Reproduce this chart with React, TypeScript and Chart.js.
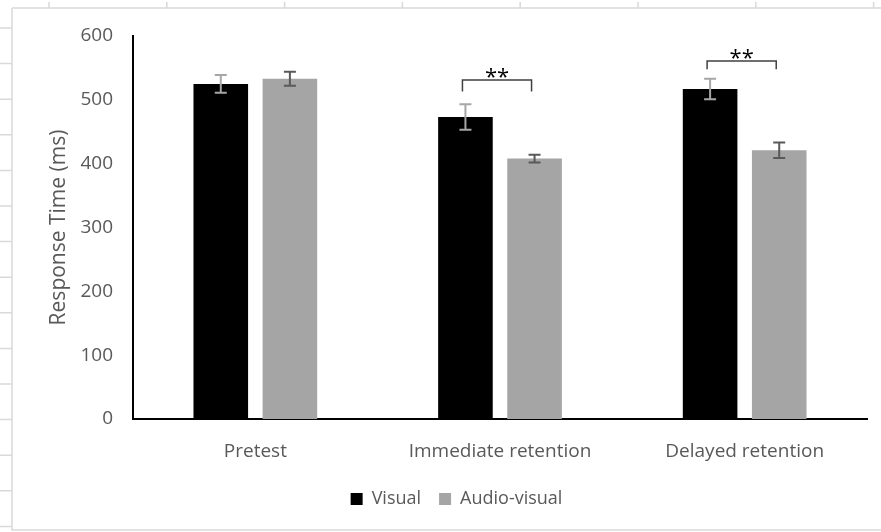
import React, { useEffect, useRef } from "react";
import { Chart, registerables } from "chart.js";

Chart.register(...registerables);

const categories = ["Pretest", "Immediate retention", "Delayed retention"];
const visualValues = [525, 473, 517];
const visualErrors = [14, 20, 16];
const audioVisualValues = [533, 408, 421];
const audioVisualErrors = [11, 6, 12];
const yTicks = [0, 100, 200, 300, 400, 500, 600];
const sigCategories = [1, 2];
const sigBracketTop = [531, 561];
const sigBracketLeg = [513, 548];
const sigLabels = ["**", "**"];

const FONT = "'Open Sans', 'Liberation Sans', sans-serif";
const TEXT = "#595959";

const sheetPlugin = {
  id: "sheet",
  beforeDraw(chart: any) {
    const ctx = chart.ctx;
    ctx.save();
    ctx.strokeStyle = "#d9d9d9";
    ctx.lineWidth = 1.5;
    ctx.beginPath();
    ctx.moveTo(12, 8);
    ctx.lineTo(chart.width, 8);
    ctx.moveTo(12, 8);
    ctx.lineTo(12, 530);
    ctx.lineTo(chart.width, 530);
    for (let x = 49; x < chart.width; x += 117.8) {
      ctx.moveTo(x, 2);
      ctx.lineTo(x, 8);
    }
    for (let y = 28; y < 530; y += 35.6) {
      ctx.moveTo(0, y);
      ctx.lineTo(12, y);
    }
    ctx.stroke();
    ctx.restore();
  },
};

const errorPlugin = {
  id: "errorBars",
  afterDatasetsDraw(chart: any) {
    const ctx = chart.ctx;
    const yScale = chart.scales.y;
    const sets = [
      { errs: visualErrors, vals: visualValues, color: "#a6a6a6" },
      { errs: audioVisualErrors, vals: audioVisualValues, color: "#595959" },
    ];
    ctx.save();
    ctx.lineWidth = 2;
    sets.forEach((s, di) => {
      const meta = chart.getDatasetMeta(di);
      meta.data.forEach((el: any, i: number) => {
        const x = el.x;
        const yt = yScale.getPixelForValue(s.vals[i] + s.errs[i]);
        const yb = yScale.getPixelForValue(s.vals[i] - s.errs[i]);
        ctx.strokeStyle = s.color;
        ctx.beginPath();
        ctx.moveTo(x, yt);
        ctx.lineTo(x, yb);
        ctx.moveTo(x - 6, yt);
        ctx.lineTo(x + 6, yt);
        ctx.moveTo(x - 6, yb);
        ctx.lineTo(x + 6, yb);
        ctx.stroke();
      });
    });
    // significance brackets
    const m0 = chart.getDatasetMeta(0);
    const m1 = chart.getDatasetMeta(1);
    ctx.strokeStyle = "#404040";
    ctx.lineWidth = 1.5;
    ctx.fillStyle = "#000";
    ctx.font = `22px ${FONT}`;
    ctx.textAlign = "center";
    ctx.textBaseline = "alphabetic";
    sigCategories.forEach((c, k) => {
      const x1 = m0.data[c].x - 3;
      const x2 = m1.data[c].x - 3;
      const yt = yScale.getPixelForValue(sigBracketTop[k]);
      const yl = yScale.getPixelForValue(sigBracketLeg[k]);
      ctx.beginPath();
      ctx.moveTo(x1, yl);
      ctx.lineTo(x1, yt);
      ctx.lineTo(x2, yt);
      ctx.lineTo(x2, yl);
      ctx.stroke();
      ctx.fillText(sigLabels[k], (x1 + x2) / 2, yt + 4);
    });
    ctx.restore();
  },
};

export default function App() {
  const ref = useRef<HTMLCanvasElement>(null);
  useEffect(() => {
    if (!ref.current) return;
    const chart = new Chart(ref.current, {
      type: "bar",
      data: {
        labels: categories,
        datasets: [
          {
            label: "Visual",
            data: visualValues,
            backgroundColor: "#000000",
            categoryPercentage: 0.565,
            barPercentage: 0.79,
          },
          {
            label: "Audio-visual",
            data: audioVisualValues,
            backgroundColor: "#a5a5a5",
            categoryPercentage: 0.565,
            barPercentage: 0.79,
          },
        ],
      },
      options: {
        animation: false,
        responsive: true,
        maintainAspectRatio: false,
        layout: { padding: { left: 46, right: 14, top: 36, bottom: 14 } },
        plugins: {
          tooltip: { enabled: false },
          legend: {
            position: "bottom",
            labels: {
              boxWidth: 12,
              boxHeight: 12,
              padding: 18,
              color: TEXT,
              font: { family: FONT, size: 18 },
            },
          },
        },
        scales: {
          x: {
            grid: { display: false },
            border: { display: true, color: "#000", width: 2 },
            ticks: { color: TEXT, font: { family: FONT, size: 19 }, padding: 13 },
            afterFit(scale: any) {
              scale.height = 53;
            },
          },
          y: {
            min: 0,
            max: 600,
            afterBuildTicks(scale: any) {
              scale.ticks = yTicks.map((v) => ({ value: v }));
            },
            grid: { display: false, drawTicks: false },
            border: { display: true, color: "#000", width: 2 },
            ticks: { color: TEXT, font: { family: FONT, size: 19 }, padding: 20 },
            title: {
              display: true,
              text: "Response Time (ms)",
              color: TEXT,
              font: { family: FONT, size: 21 },
              padding: 0,
            },
            afterFit(scale: any) {
              scale.width = 87;
            },
          },
        },
      },
      plugins: [sheetPlugin, errorPlugin],
    });
    return () => chart.destroy();
  }, []);
  return (
    <div style={{ position: "absolute", left: 0, top: 0, width: 881, height: 532, background: "#fff" }}>
      <canvas ref={ref} />
    </div>
  );
}
